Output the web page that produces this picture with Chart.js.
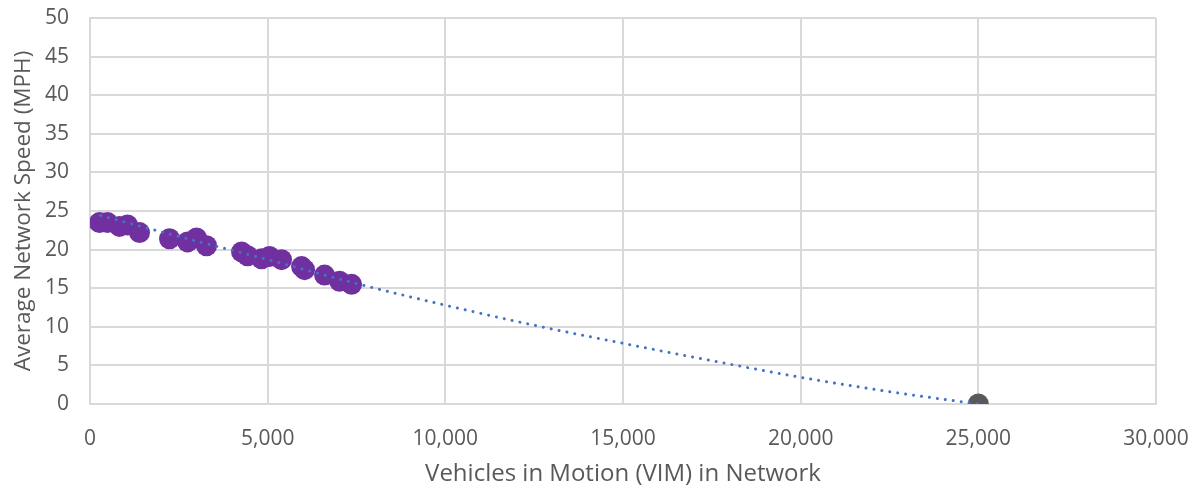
<!DOCTYPE html>
<html>
<head>
<meta charset="utf-8">
<script src="https://cdn.jsdelivr.net/npm/chart.js@4"></script>
<style>
html,body{margin:0;padding:0;background:#fff;}
#wrap{width:1198px;height:489px;position:relative;}
</style>
</head>
<body>
<div id="wrap"><canvas id="c" width="1198" height="489"></canvas></div>
<script>
const vim = [267, 493, 830, 1056, 1394, 2238, 2745, 2998, 3280, 4265, 4434, 4828, 5053, 5391, 5954, 6039, 6602, 7024, 7362];
const speed = [23.5, 23.5, 23.0, 23.2, 22.2, 21.4, 21.0, 21.5, 20.5, 19.7, 19.2, 18.8, 19.1, 18.7, 17.8, 17.4, 16.7, 15.9, 15.5];
const anchorVim = [25000];
const anchorSpeed = [0];
const trendVim = [300, 2500, 5000, 7500, 10000, 12500, 15000, 17500, 20000, 22500, 25000];
const trendSpeed = [24.4, 21.7, 18.7, 15.6, 12.8, 10.2, 7.86, 5.6, 3.46, 1.6, 0];
const xTicks = [0, 5000, 10000, 15000, 20000, 25000, 30000];
const yTicks = [0, 5, 10, 15, 20, 25, 30, 35, 40, 45, 50];
const xTitle = 'Vehicles in Motion (VIM) in Network';
const yTitle = 'Average Network Speed (MPH)';

const pts = (xs, ys) => xs.map((x, i) => ({x: x, y: ys[i]}));
const FONT = "'Open Sans', 'Liberation Sans', sans-serif";
const TXT = '#595959';
const GRID = '#d9d9d9';

new Chart(document.getElementById('c'), {
  type: 'scatter',
  data: {
    datasets: [
      {
        type: 'line',
        data: pts(trendVim, trendSpeed),
        borderColor: '#4472C4',
        borderWidth: 3,
        borderDash: [0.01, 8],
        borderCapStyle: 'round',
        pointRadius: 0,
        cubicInterpolationMode: 'monotone',
        fill: false
      },
      {
        data: pts(vim, speed),
        backgroundColor: '#7030A0',
        borderColor: '#7030A0',
        borderWidth: 0,
        pointRadius: 10.5
      },
      {
        data: pts(anchorVim, anchorSpeed),
        backgroundColor: '#595959',
        borderColor: '#595959',
        borderWidth: 0,
        pointRadius: 10.5
      }
    ]
  },
  options: {
    responsive: false,
    animation: false,
    devicePixelRatio: 1,
    layout: {padding: {top: 18, right: 42, left: 0, bottom: 0}},
    plugins: {legend: {display: false}, tooltip: {enabled: false}},
    scales: {
      x: {
        type: 'linear',
        min: 0, max: 30000,
        afterBuildTicks: s => { s.ticks = xTicks.map(v => ({value: v})); },
        afterFit: s => { s.height = 85; s.paddingLeft = 0; s.paddingRight = 0; },
        grid: {color: GRID, lineWidth: 2, drawTicks: false},
        border: {color: GRID, width: 2},
        ticks: {
          color: TXT, font: {family: FONT, size: 21}, padding: 22, maxRotation: 0,
          callback: v => v.toLocaleString('en-US')
        },
        title: {display: true, text: xTitle, color: TXT, font: {family: FONT, size: 24}, padding: {top: 0, bottom: 0}}
      },
      y: {
        type: 'linear',
        min: 0, max: 50,
        afterBuildTicks: s => { s.ticks = yTicks.map(v => ({value: v})); },
        afterFit: s => { s.width = 90; s.paddingTop = 0; s.paddingBottom = 0; },
        grid: {color: GRID, lineWidth: 2, drawTicks: false},
        border: {color: GRID, width: 2},
        ticks: {color: TXT, font: {family: FONT, size: 21}, padding: 21},
        title: {display: true, text: yTitle, color: TXT, font: {family: FONT, size: 22.5}, padding: {bottom: 0, top: 10}}
      }
    }
  }
});
</script>
</body>
</html>
